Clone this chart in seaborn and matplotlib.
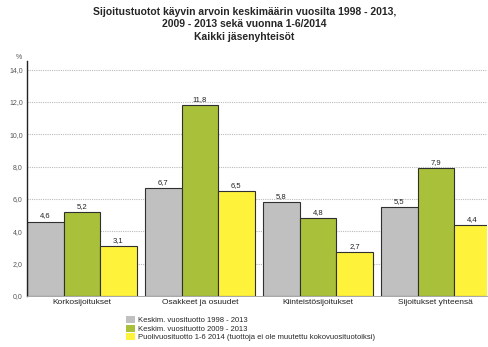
import matplotlib
matplotlib.use("Agg")
import matplotlib.pyplot as plt
import seaborn as sns
import pandas as pd
from matplotlib.patches import Patch

categories = ["Korkosijoitukset", "Osakkeet ja osuudet", "Kiinteistösijoitukset", "Sijoitukset yhteensä"]
series = ["Keskim. vuosituotto 1998 - 2013",
          "Keskim. vuosituotto 2009 - 2013",
          "Puolivuosituotto 1-6 2014 (tuottoja ei ole muutettu kokovuosituotoiksi)"]
avg_1998_2013 = [4.6, 6.7, 5.8, 5.5]
avg_2009_2013 = [5.2, 11.8, 4.8, 7.9]
h1_2014 = [3.1, 6.5, 2.7, 4.4]
colors = ["#c0c0c0", "#a8c03a", "#fff23a"]
yticks = [0, 2, 4, 6, 8, 10, 12, 14]

rows = []
for s, vals in zip(series, [avg_1998_2013, avg_2009_2013, h1_2014]):
    for c, v in zip(categories, vals):
        rows.append({"cat": c, "series": s, "value": v})
df = pd.DataFrame(rows)

sns.set_style("white")
plt.rcParams["font.family"] = ["Liberation Sans", "DejaVu Sans"]

fig = plt.figure(figsize=(4.89, 3.47), dpi=100)
ax = fig.add_axes([0.055, 0.147, 0.94, 0.678])

sns.barplot(data=df, x="cat", y="value", hue="series", palette=colors, saturation=1,
            width=0.93, edgecolor="#303030", linewidth=0.8, ax=ax, legend=False)

for cont in ax.containers:
    ax.bar_label(cont, labels=[f"{v:.1f}".replace(".", ",") for v in cont.datavalues],
                 fontsize=5.5, padding=1.5, color="#222222")

ax.set_ylim(0, 14.55)
ax.set_xlim(-0.466, 3.43)
ax.set_yticks(yticks)
ax.set_yticklabels([f"{t:.1f}".replace(".", ",") for t in yticks], fontsize=5, color="#555555")
ax.tick_params(axis="x", labelsize=6, length=0, pad=2, colors="#222222")
ax.tick_params(axis="y", length=2, width=0.6, pad=1, colors="#555555")
ax.set_xlabel("")
ax.set_ylabel("")
ax.yaxis.grid(True, color="#bbbbbb", linestyle=(0, (1, 1)), linewidth=0.8)
ax.set_axisbelow(True)
for side in ["top", "right"]:
    ax.spines[side].set_visible(False)
ax.spines["left"].set_color("#222222")
ax.spines["left"].set_linewidth(1.0)
ax.spines["bottom"].set_color("#999999")
ax.spines["bottom"].set_linewidth(0.6)
ax.text(-0.01, 1.0, "%", transform=ax.transAxes, fontsize=5, color="#555555",
        ha="right", va="bottom")

fig.suptitle("Sijoitustuotot käyvin arvoin keskimäärin vuosilta 1998 - 2013,\n"
             "2009 - 2013 sekä vuonna 1-6/2014\nKaikki jäsenyhteisöt",
             fontsize=7.5, fontweight="bold", y=0.98, linespacing=1.3)

handles = [Patch(facecolor=c, edgecolor="none") for c in colors]
fig.legend(handles, series, loc="upper left", bbox_to_anchor=(0.258, 0.088),
           frameon=False, fontsize=5.5, handlelength=1.1, handleheight=1.0,
           handletextpad=0.5, labelspacing=0.05, borderpad=0, borderaxespad=0)

fig.savefig("out.png", dpi=100)
